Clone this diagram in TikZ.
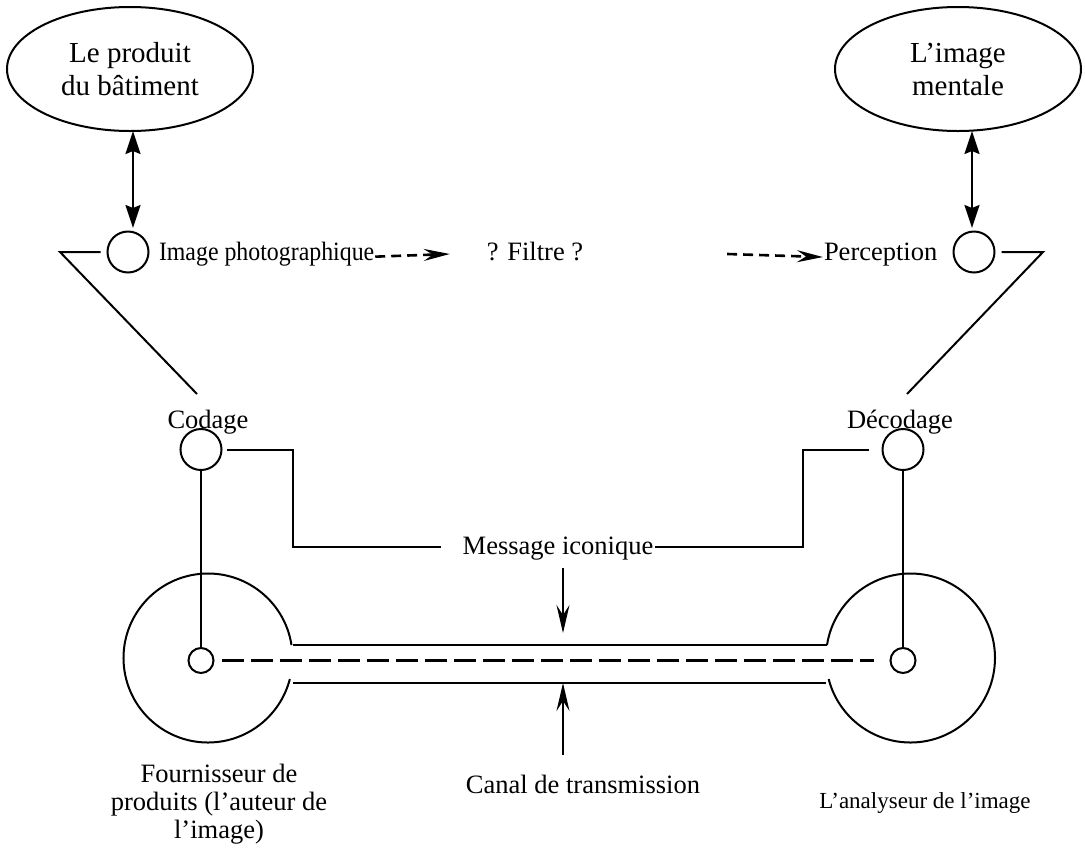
\documentclass[tikz,border=0pt]{standalone}
\usepackage{fontspec}
\setmainfont{Liberation Serif}
\usetikzlibrary{arrows.meta,shapes.geometric}
\begin{document}
\begin{tikzpicture}[x=1pt,y=-1pt, line width=2pt,
  lbl/.style={font=\fontsize{26.5}{28}\selectfont, inner sep=0pt},
  smalllbl/.style={font=\fontsize{23}{27}\selectfont, inner sep=0pt},
  smallc/.style={draw, circle, minimum size=41pt, inner sep=0pt},
  tinyc/.style={draw, circle, minimum size=25pt, inner sep=0pt},
  bubble/.style={draw, ellipse, minimum width=246pt, minimum height=124pt, align=center,
    font=\fontsize{29}{33}\selectfont, inner sep=0pt},
  dbl/.style={{Stealth[length=23pt,width=15pt,inset=3pt]}-{Stealth[length=23pt,width=15pt,inset=3pt]}},
  darr/.style={line width=2.6pt, dash pattern=on 10pt off 6pt, -{Stealth[length=26pt,width=12pt,inset=9pt]}},
  varr/.style={-{Stealth[length=28pt,width=13pt,inset=10pt]}, line width=1.7pt},
  chan/.style={line width=2.4pt, dash pattern=on 22pt off 7pt},
]
\useasboundingbox (0,0) rectangle (1085,847);

% top ellipses
\node[bubble] (prod) at (130,69) {Le produit\\du bâtiment};
\node[bubble] (ment) at (958,69) {L’image\\mentale};

% small circles, upper level
\node[smallc] (ip) at (128,252) {};
\node[smallc] (pc) at (974,252) {};

\draw[dbl] (133,131) -- (133,228);
\draw[dbl] (972,131) -- (972,228);

% texts upper level
\node[lbl, anchor=base west] (ipt) at (158,260) {\scalebox{0.9}[1]{Image photographique}};
\node[lbl, anchor=base] (filt) at (535,260) {? Filtre ?};
\node[lbl, anchor=base west] (perc) at (823,260) {Perception};

\draw[darr] ([yshift=-3pt]ipt.east) -- ([xshift=-36pt,yshift=-3pt]filt.west);
\draw[darr] ([xshift=143pt,yshift=-3pt]filt.east) -- ([yshift=-3pt]perc.west);

% codage / decodage
\node[lbl, anchor=base] (codt) at (208,428) {Codage};
\node[lbl, anchor=base] (dect) at (900,428) {Décodage};
\node[smallc] (cod) at (201,449.5) {};
\node[smallc] (dec) at (903,449.5) {};

% diagonals
\coordinate (dl) at (197,394);
\coordinate (dr) at (907,394);
\draw ([xshift=-6pt]ip.west) -- (60,252) -- (dl);
\draw ([xshift=6pt]pc.east) -- (1043,252) -- (dr);

% message iconique routes
\node[lbl, anchor=base] (msg) at (558,554) {Message iconique};
\draw ([xshift=4pt]cod.east) -- (293,449.5) -- (293,547) -- (441,547);
\draw (655,547) -- (803,547) -- (803,449.5) -- ([xshift=-13pt]dec.west);

% endpoints
\node[tinyc] (sl) at (201,660.5) {};
\node[tinyc] (sr) at (903,660.5) {};
\draw (cod.south) -- (sl.north);
\draw (dec.south) -- (sr.north);

% channel
\draw[chan] ([xshift=7pt]sl.east) -- ([xshift=-16pt]sr.west);
\draw (293,645) -- (827,645);
\draw (293,683) -- (826,683);

% big circles with gaps
\draw (208,658) ++(-8.8:84.5) arc[start angle=-8.8, end angle=-345.6, radius=84.5];
\draw (910.5,658) ++(188.8:84.5) arc[start angle=188.8, end angle=525.6, radius=84.5];

% arrows to the channel
\node[lbl, anchor=base] (canal) at (583,793) {Canal de transmission};
\draw[varr] (563,568) -- (563,633);
\draw[varr] (563,755) -- (563,683);

% bottom labels
\node[lbl, anchor=base, align=center] (four) at (219,838) {Fournisseur de\\produits (l’auteur de\\l’image)};
\node[smalllbl, anchor=base] (anal) at (925,808) {L’analyseur de l’image};
\end{tikzpicture}
\end{document}
